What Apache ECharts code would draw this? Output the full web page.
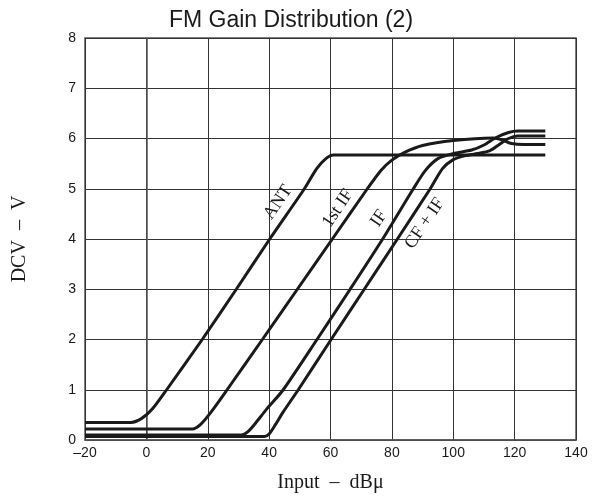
<!DOCTYPE html>
<html>
<head>
<meta charset="utf-8">
<script src="https://cdn.jsdelivr.net/npm/echarts@6/dist/echarts.min.js"></script>
<style>
html,body{margin:0;padding:0;background:#fff;}
#chart{width:599px;height:498px;}
</style>
</head>
<body>
<div id="chart"></div>
<script>
const titleText = 'FM Gain Distribution (2)';
const xAxisName = 'Input  –  dBμ';
const yAxisName = 'DCV  –  V';
const xTicks = [-20, 0, 20, 40, 60, 80, 100, 120, 140];
const yTicks = [0, 1, 2, 3, 4, 5, 6, 7, 8];

const seriesNames = ['ANT', '1st IF', 'IF', 'CF + IF'];

const antData = [[-20,0.35],[-5,0.35],[-1.5,0.43],[2,0.62],[6.6,1.0],[18.2,2],[29.3,3],[40.2,4],[51.5,5],[55.5,5.4],[58.5,5.6],[61,5.67],[130,5.67]];
const firstIfData = [[-20,0.22],[15,0.22],[17.5,0.3],[21,0.55],[26.3,1],[37.8,2],[49.2,3],[60.6,4],[72,5],[76.5,5.37],[80,5.57],[84,5.72],[90,5.86],[100,5.96],[113,6.01],[116,5.97],[119,5.9],[123,5.88],[130,5.88]];
const ifData = [[-20,0.1],[31,0.1],[33,0.16],[35.5,0.33],[39,0.6],[44.6,1.0],[55.6,2],[66.4,3],[77,4],[87,5],[91,5.37],[95,5.6],[100,5.7],[106,5.77],[110,5.87],[114,6.02],[118,6.12],[121,6.15],[130,6.15]];
const cfIfData = [[-20,0.07],[38.5,0.07],[40,0.12],[42,0.3],[44.5,0.55],[49.5,1],[60.2,2],[71,3],[81.8,4],[92.5,5],[96.5,5.4],[100,5.58],[104,5.66],[108,5.7],[112,5.76],[115,5.88],[118,6.0],[121,6.05],[130,6.05]];

// label anchor positions in data units (curve annotations)
const labelAnchors = [[42.9,4.73],[62.4,4.61],[75.8,4.41],[90.7,4.31]];
const labelAngleDeg = 56;

const allData = [antData, firstIfData, ifData, cfIfData];

const chart = echarts.init(document.getElementById('chart'), null, {renderer:'canvas'});
const fmt = v => String(v).replace('-', '–');
const serif = 'Liberation Serif, Times New Roman, serif';
const sans = 'Liberation Sans, Arial, sans-serif';

chart.setOption({
  animation: false,
  backgroundColor: '#ffffff',
  title: {
    text: titleText,
    left: 286, top: 4, textAlign: 'center',
    textStyle: {fontFamily: sans, fontSize: 23, fontWeight: 'normal', color: '#1a1a1a'}
  },
  grid: {left: 85, right: 23, top: 38, bottom: 52, show: true, borderColor: '#555', borderWidth: 1.5},
  xAxis: {
    type: 'value', min: -20, max: 140, interval: 20,
    name: xAxisName, nameLocation: 'middle', nameGap: 33,
    nameTextStyle: {fontFamily: serif, fontSize: 20, color: '#1a1a1a'},
    axisLine: {show: true, lineStyle: {color: '#555', width: 1.5}},
    axisTick: {show: false},
    axisLabel: {formatter: fmt, fontFamily: sans, fontSize: 14, color: '#1a1a1a', margin: 6},
    splitLine: {show: true, lineStyle: {color: '#333', width: 1}}
  },
  yAxis: {
    type: 'value', min: 0, max: 8, interval: 1,
    name: yAxisName, nameLocation: 'middle', nameGap: 55, nameRotate: 90,
    nameTextStyle: {fontFamily: serif, fontSize: 20, color: '#1a1a1a'},
    axisLine: {show: true, lineStyle: {color: '#555', width: 1.5}},
    axisTick: {show: false},
    axisLabel: {fontFamily: sans, fontSize: 14, color: '#1a1a1a', margin: 9},
    splitLine: {show: true, lineStyle: {color: '#333', width: 1}}
  },
  series: allData.map((d, i) => ({
    name: seriesNames[i], type: 'line', data: d,
    showSymbol: false, smooth: 0.25,
    lineStyle: {color: '#1a1a1a', width: 3},
    z: 3
  }))
});

const rot = labelAngleDeg * Math.PI / 180;
chart.setOption({
  graphic: labelAnchors.map((p, i) => {
    const px = chart.convertToPixel({gridIndex: 0}, p);
    return {
      type: 'text', x: px[0], y: px[1], rotation: rot, z: 10,
      style: {text: seriesNames[i], fill: '#1a1a1a', fontFamily: serif, fontSize: 18,
              align: 'center', verticalAlign: 'middle'}
    };
  })
});
</script>
</body>
</html>
